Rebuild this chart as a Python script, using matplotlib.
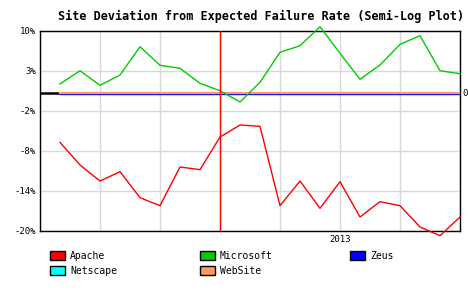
import numpy as np
import matplotlib.pyplot as plt
from matplotlib.patches import Rectangle
from matplotlib.transforms import blended_transform_factory

# ---- data (monthly, Nov 2011 .. Jul 2013), percent deviation
months = np.arange(21)
apache = [-6.7, -10.1, -12.5, -11.1, -15.0, -16.2, -10.4, -10.8, -5.9, -4.1, -4.3,
          -16.2, -12.5, -16.6, -12.6, -17.9, -15.6, -16.2, -19.4, -20.7, -17.9]
microsoft = [1.23, 3.05, 1.05, 2.45, 7.25, 4.0, 3.47, 1.32, 0.31, -1.0, 1.46,
             6.27, 7.43, 10.75, 6.10, 1.87, 4.05, 7.67, 9.18, 3.05, 2.63]
zeus = [-0.1] * 21
netscape = [0.0] * 21
website = [0.0] * 21

ytick_vals = [-20, -14, -8, -2, 3, 10]
ytick_labels = ['-20%', '-14%', '-8%', '-2%', '3%', '10%']
xgrid = [-1, 2, 5, 8, 11, 14, 17, 20]
event_month = 8
year_tick, year_label = 14, '2013'

names = ['Apache', 'Microsoft', 'Zeus', 'Netscape', 'WebSite']
colors = ['#ff0000', '#00cc00', '#0000ff', '#00ffff', '#ff9966']

# ---- piecewise "semi-log" axis
knot_v = np.array([-26, -20, -14, -8, -2, 0, 3, 10, 17])
knot_p = np.array([-1, 0, 1, 2, 3, 3.45, 4, 5, 6])


def fwd(v):
    return np.interp(v, knot_v, knot_p)


def inv(p):
    return np.interp(p, knot_p, knot_v)


plt.rcParams['font.family'] = 'DejaVu Sans Mono'
fig = plt.figure(figsize=(4.68, 3.0), dpi=100)
ax = fig.add_axes([40 / 468, 1 - 231 / 300, 420 / 468, 200 / 300])
ax.set_yscale('function', functions=(fwd, inv))
ax.set_ylim(-20, 10)
ax.set_xlim(-1, 20)

ax.set_yticks(ytick_vals)
ax.set_yticklabels(ytick_labels)
ax.set_xticks([year_tick])
ax.set_xticklabels([year_label])
ax.tick_params(length=0, labelsize=6.5, pad=3)
ax.yaxis.grid(True, color='#d8d8d8', lw=1)
for g in xgrid:
    ax.axvline(g, color='#d8d8d8', lw=1, zorder=0)
for s in ax.spines.values():
    s.set_color('black')
    s.set_linewidth(1.0)

ax.axhline(0, color='black', lw=1.8, zorder=1)
ax.plot(months, netscape, color=colors[3], lw=1, zorder=2)
ax.plot(months, zeus, color=colors[2], lw=1, zorder=2)
ax.plot(months, website, color=colors[4], lw=1.6, zorder=3)
ax.plot(months, apache, color=colors[0], lw=1, zorder=4, clip_on=False)
ax.plot(months, microsoft, color=colors[1], lw=1, zorder=4, clip_on=False)
ax.axvline(event_month, color='#ff0000', lw=1, zorder=5)

tr = blended_transform_factory(ax.transAxes, ax.transData)
ax.text(1.006, 0, '0', transform=tr, va='center', ha='left', fontsize=6.5)

fig.text(261 / 468, 1 - 16 / 300, 'Site Deviation from Expected Failure Rate (Semi-Log Plot)',
         ha='center', va='center', fontsize=8.5, fontweight='bold')

# ---- legend
for i, name in enumerate(names):
    col, row = i % 3, i // 3
    x0 = 50 + col * 150
    y0 = 251 + row * 15
    fig.add_artist(Rectangle((x0 / 468, 1 - (y0 + 9) / 300), 15 / 468, 9 / 300,
                             facecolor=colors[i], edgecolor='black', lw=1,
                             transform=fig.transFigure))
    fig.text((x0 + 20) / 468, 1 - (y0 + 5) / 300, name, ha='left', va='center', fontsize=7)

fig.savefig('out.png', dpi=100)
